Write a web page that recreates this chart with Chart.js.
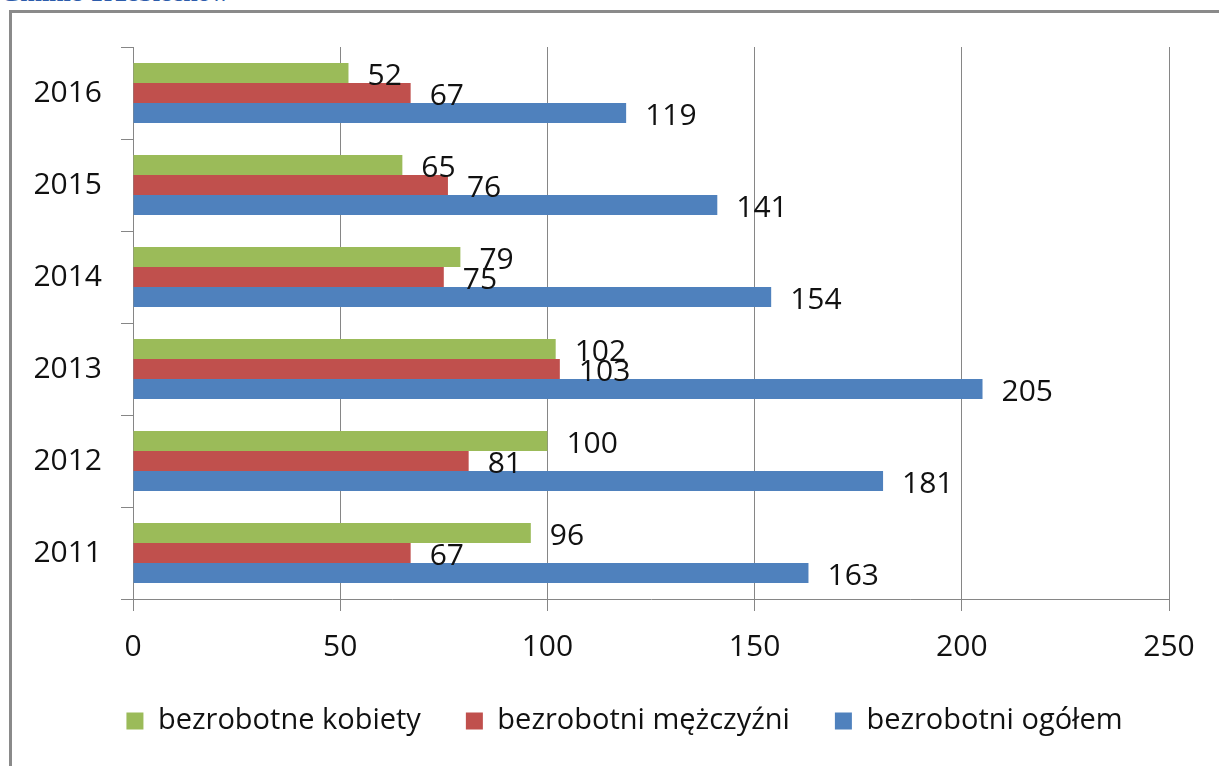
<!DOCTYPE html>
<html>
<head>
<meta charset="utf-8">
<script src="https://cdn.jsdelivr.net/npm/chart.js@4"></script>
<style>
  html, body { margin: 0; padding: 0; background: #fff; overflow: hidden; }
  #wrap { position: relative; width: 1219px; height: 766px; }
  #frame { position: absolute; left: 9px; top: 10px; width: 1300px; height: 900px;
           border-left: 3px solid #8a8a8a; border-top: 3px solid #8a8a8a; box-sizing: border-box; }
  #head { position: absolute; left: 0px; top: -20px; font: bold 26px "Liberation Serif", serif;
          color: #2d5cab; white-space: nowrap; line-height: 26px; }
  canvas { position: absolute; left: 0; top: 0; }
</style>
</head>
<body>
<div id="wrap">
  <div id="head">Gminie Trzebiechów</div>
  <div id="frame"></div>
  <canvas id="c" width="1219" height="766"></canvas>
</div>
<script>
const years = ["2016", "2015", "2014", "2013", "2012", "2011"];
const kobiety = [52, 65, 79, 102, 100, 96];
const mezczyzni = [67, 76, 75, 103, 81, 67];
const ogolem = [119, 141, 154, 205, 181, 163];
const seriesNames = ["bezrobotne kobiety", "bezrobotni mężczyźni", "bezrobotni ogółem"];
const xTicks = [0, 50, 100, 150, 200, 250];

const FONT = '"Open Sans", "Noto Sans", sans-serif';

const valueLabels = {
  id: 'valueLabels',
  afterDatasetsDraw(chart) {
    const ctx = chart.ctx;
    ctx.save();
    ctx.font = '30px ' + FONT;
    ctx.fillStyle = '#111';
    ctx.textAlign = 'left';
    ctx.textBaseline = 'middle';
    chart.data.datasets.forEach((ds, di) => {
      const meta = chart.getDatasetMeta(di);
      meta.data.forEach((bar, i) => {
        ctx.fillText(String(ds.data[i]), bar.x + 19, bar.y + 3);
      });
    });
    ctx.restore();
  }
};

// shift the legend so that it is centred like the reference
const legendShift = {
  id: 'legendShift',
  afterLayout(chart) {
    if (chart.legend) {
      chart.legend.left += 40; chart.legend.right += 40;
      chart.legend.top += 2; chart.legend.bottom += 2;
    }
  }
};

new Chart(document.getElementById('c'), {
  type: 'bar',
  data: {
    labels: years,
    datasets: [
      { label: seriesNames[0], data: kobiety, backgroundColor: '#9BBB59' },
      { label: seriesNames[1], data: mezczyzni, backgroundColor: '#C0504D' },
      { label: seriesNames[2], data: ogolem, backgroundColor: '#4F81BD' }
    ]
  },
  options: {
    indexAxis: 'y',
    responsive: false,
    animation: false,
    devicePixelRatio: 1,
    categoryPercentage: 0.652,
    barPercentage: 1.0,
    layout: { padding: { left: 0, right: 50, top: 47, bottom: 22.5 } },
    scales: {
      x: {
        min: 0, max: 250,
        afterBuildTicks(scale) { scale.ticks = xTicks.map(v => ({ value: v })); },
        afterFit(scale) { scale.height = 60.5; },
        grid: { color: '#868686', lineWidth: 1, tickLength: 12, drawTicks: true },
        border: { color: '#868686' },
        ticks: { font: { size: 30, family: FONT }, color: '#111', padding: 18 }
      },
      y: {
        afterFit(scale) { scale.width = 133; },
        grid: { display: true, drawOnChartArea: false, drawTicks: true, tickLength: 12, color: '#868686', offset: true },
        border: { color: '#868686' },
        ticks: { font: { size: 30, family: FONT }, color: '#111', padding: 19 }
      }
    },
    plugins: {
      legend: {
        position: 'bottom',
        labels: {
          boxWidth: 17, boxHeight: 17, padding: 45,
          font: { size: 29, family: FONT }, color: '#111'
        }
      },
      tooltip: { enabled: false }
    }
  },
  plugins: [valueLabels, legendShift]
});
</script>
</body>
</html>
